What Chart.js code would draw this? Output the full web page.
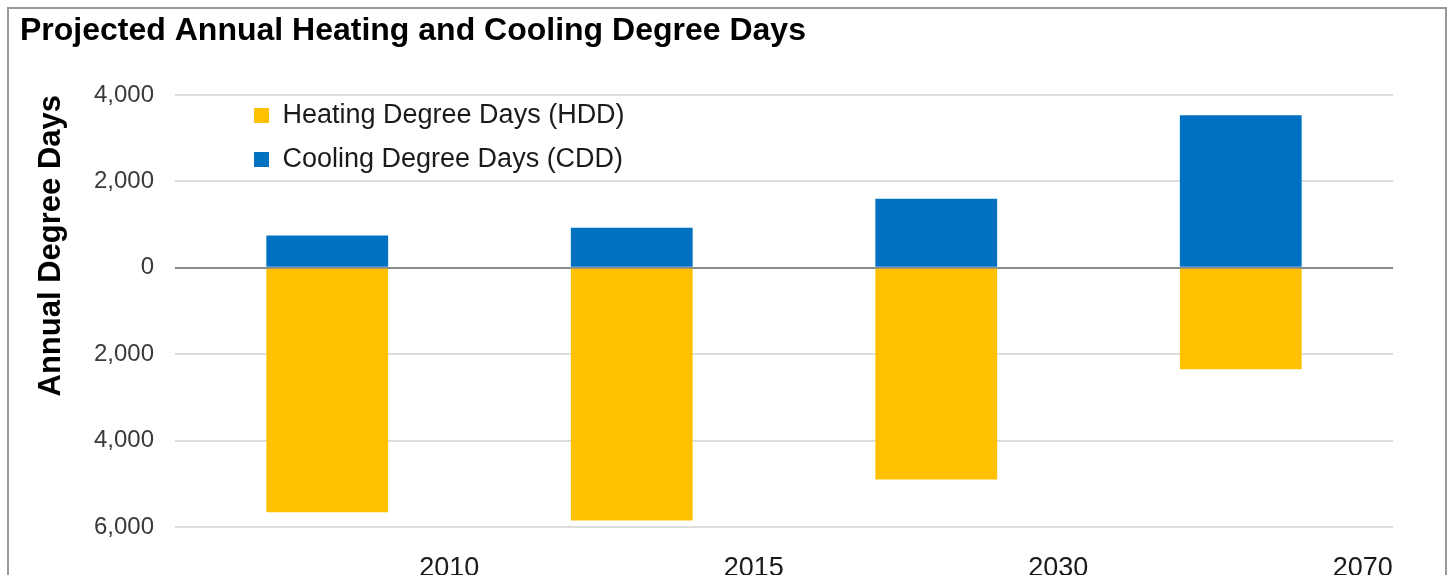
<!DOCTYPE html>
<html>
<head>
<meta charset="utf-8">
<script src="https://cdn.jsdelivr.net/npm/chart.js@4.4.1/dist/chart.umd.min.js"></script>
<style>
    html, body { margin: 0; padding: 0; background: #fff; overflow: hidden; }
    #frame {
        position: absolute; left: 7px; top: 7px;
        width: 1436px; height: 700px;
        border: 2px solid #9a9a9a;
    }
    #degreeChart { position: absolute; left: 0; top: 0; }
</style>
</head>
<body>
<div id="frame"></div>
<canvas id="degreeChart" width="1448" height="575"></canvas>
<script>
// values
const years = ['2010', '2015', '2030', '2070'];
const hddDays = [-5660, -5850, -4900, -2350]; // heating, drawn below zero
const cddDays = [750, 925, 1600, 3530];       // cooling, drawn above zero
const yTicks = [4000, 2000, 0, -2000, -4000, -6000];

const FONT = "'Liberation Sans', Arial, sans-serif";

// put the in-plot legend where the original sits
// (a vertical legend resets its own top to 0, so set it from the chart area)
const legendShift = {
    id: 'legendShift',
    afterLayout(chart) {
        chart.legend.left = chart.chartArea.left + 62;
        chart.legend.top = chart.chartArea.top - 10;
    }
};

new Chart(document.getElementById('degreeChart'), {
    type: 'bar',
    data: {
        labels: years,
        datasets: [{
            label: 'Heating Degree Days (HDD)',
            data: hddDays,
            backgroundColor: '#FFC000',
            borderWidth: 0,
            barPercentage: 0.4,
            categoryPercentage: 1.0
        }, {
            label: 'Cooling Degree Days (CDD)',
            data: cddDays,
            backgroundColor: '#0070C0',
            borderWidth: 0,
            barPercentage: 0.4,
            categoryPercentage: 1.0
        }]
    },
    options: {
        responsive: false,
        animation: false,
        devicePixelRatio: 1,
        events: [],
        layout: {
            padding: { left: 20, right: 55, top: 0, bottom: 0 }
        },
        plugins: {
            title: {
                display: true,
                text: 'Projected Annual Heating and Cooling Degree Days',
                align: 'start',
                color: '#000',
                font: { family: FONT, size: 32, weight: 'bold' },
                padding: { top: 12, bottom: 44.6 }
            },
            legend: {
                position: 'chartArea',
                align: 'start',
                labels: {
                    boxWidth: 15,
                    boxHeight: 15,
                    padding: 17,
                    color: '#1a1a1a',
                    font: { family: FONT, size: 27 }
                }
            },
            tooltip: { enabled: false }
        },
        scales: {
            x: {
                stacked: true,
                grid: { display: false },
                border: { display: false },
                ticks: {
                    align: 'end',
                    labelOffset: 152,
                    padding: 17,
                    autoSkip: false,
                    maxRotation: 0,
                    color: '#1a1a1a',
                    font: { family: FONT, size: 27 }
                },
                afterFit: function (scale) {
                    scale.height = 48;
                }
            },
            y: {
                stacked: true,
                min: -6000,
                max: 4000,
                border: { display: false },
                grid: {
                    drawTicks: false,
                    lineWidth: 2,
                    color: ctx => ctx.tick && ctx.tick.value === 0 ? '#8c8c8c' : '#dcdcdc'
                },
                afterBuildTicks: function (scale) {
                    scale.ticks = yTicks.map(v => ({ value: v }));
                },
                ticks: {
                    padding: 21,
                    color: '#3a3a3a',
                    font: { family: FONT, size: 24 },
                    callback: value => Math.abs(value).toLocaleString('en-US')
                },
                title: {
                    display: true,
                    text: 'Annual Degree Days',
                    align: 'end',
                    color: '#000',
                    font: { family: FONT, size: 31, weight: 'bold' },
                    padding: { top: 13, bottom: 0 }
                },
                afterFit: function (scale) {
                    scale.width = 155;
                }
            }
        }
    },
    plugins: [legendShift]
});
</script>
</body>
</html>
